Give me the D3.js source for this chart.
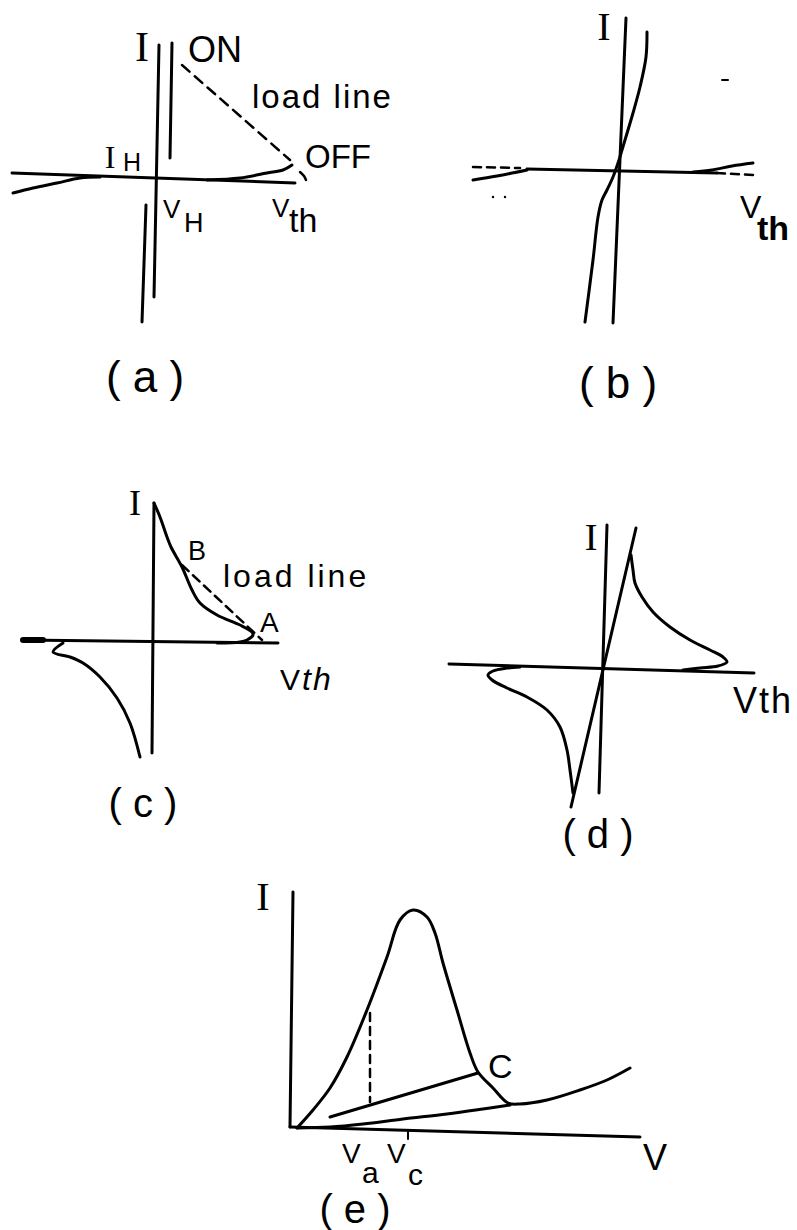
<!DOCTYPE html>
<html>
<head>
<meta charset="utf-8">
<script src="https://cdn.jsdelivr.net/npm/d3@7"></script>
<style>
  html, body { margin: 0; padding: 0; background: #fff; }
  svg { display: block; }
  text { fill: #000; font-family: "Liberation Sans", Arial, sans-serif; }
  .serif { font-family: "Liberation Serif", "Times New Roman", serif; }
</style>
</head>
<body>
<svg id="fig" width="797" height="1230"></svg>
<script>
// ---------- (a) thyristor-like switching characteristic ----------
const aAxisV    = [[0.1, 13.2], [-0.4, -12.0]];
const aAxisH    = [[-14.6, 0.4], [13.7, -0.6]];
const aOnBranch = [[1.4, 13.4], [1.2, 1.9]];
const aLowBranch = [[-1.2, -2.8], [-1.6, -14.5]];
const aLeftCurve = [[-14.5, -1.6], [-12.5, -1.1], [-10.1, -0.6], [-7.8, -0.1], [-5.8, 0.0]];
const aRightCurve = [[4.9, -0.3], [8.2, -0.1], [10.9, 0.4], [12.5, 0.7], [13.4, 1.2]];
const aLoadLine = [[2.4, 11.2], [13.2, 1.7]];
const aOffMark  = [[14.2, 0.5], [14.6, 0.1], [14.8, -0.3]];

// ---------- (b) symmetric switching characteristic ----------
const bAxisV = [[0.9, 15.2], [-0.4, -15.3]];
const bAxisH = [[-9.0, 0.1], [10.0, -0.3]];
const bCurve = [[3.0, 13.8], [2.9, 11.3], [2.3, 8.3], [1.6, 5.7], [0.8, 3.0], [0.1, 0.7],
                [-0.4, -0.7], [-1.0, -2.0], [-1.5, -3.0], [-1.9, -4.7], [-2.4, -9.0], [-3.2, -15.2]];
const bCurveLeft  = [[-14.4, -1.0], [-12.0, -0.6], [-9.0, 0.0]];
const bCurveRight = [[7.6, -0.2], [9.5, 0.0], [11.5, 0.4], [13.6, 0.7]];
const bDashLeft   = [[-14.4, 0.3], [-9.7, 0.2]];
const bDashRight  = [[10.0, -0.3], [13.8, -0.5]];
const bSpecks     = [[-12.4, -2.7], [-11.2, -2.7]];
const bStroke     = [[10.5, 9.0], [11.1, 9.0]];

// ---------- (c) memory switching with load line ----------
const cAxisV = [[0.1, 13.8], [-0.1, -11.2]];
const cAxisH = [[-13.0, 0.1], [12.5, -0.2]];
const cAxisStub = [[-13.0, 0.1], [-11.0, 0.1]];
const cUpper = [[0.1, 13.8], [0.7, 12.4], [1.4, 10.4], [1.8, 9.4], [2.9, 7.4], [3.9, 5.1],
                [4.7, 3.8], [6.4, 2.6], [8.7, 1.6], [9.9, 0.9], [10.0, 0.6], [9.4, 0.1],
                [8.7, -0.1], [6.4, -0.2]];
const cLoadLine = [[2.9, 7.6], [10.9, 0.1]];
const cLower = [[-9.0, -0.2], [-10.0, -1.1], [-8.3, -1.6], [-7.0, -2.2], [-5.3, -3.6],
                [-3.6, -5.7], [-2.3, -8.2], [-1.3, -11.6]];

// ---------- (d) symmetric negative-resistance characteristic ----------
const dAxisV = [[0.4, 14.3], [-0.4, -12.5]];
const dAxisH = [[-15.4, 0.4], [15.1, -0.5]];
const dOhmic = [[3.3, 14.0], [-3.2, -13.9]];
const dUpper = [[2.8, 11.3], [3.0, 9.8], [3.2, 8.5], [3.9, 7.1], [5.0, 5.6], [6.7, 4.1],
                [8.7, 2.8], [10.7, 1.8], [12.0, 1.1], [12.4, 0.6], [11.5, 0.2], [9.7, 0.0], [8.0, -0.2]];
const dLower = [[-3.0, -12.5], [-3.3, -10.2], [-3.6, -8.2], [-4.3, -5.9], [-5.6, -4.2],
                [-7.6, -2.9], [-9.6, -2.0], [-11.1, -1.2], [-11.5, -0.7], [-11.0, -0.3],
                [-9.6, 0.0], [-8.3, 0.1]];

// ---------- (e) current peak and return branch ----------
const eAxisV = [[0.2, 23.6], [-0.1, 0.1]];
const eAxisH = [[-0.1, 0.1], [34.9, -0.9]];
const ePeak  = [[0.6, 0.0], [2.2, 1.8], [3.9, 4.0], [5.6, 7.1], [7.6, 11.8], [9.6, 17.1],
                [10.9, 20.8], [12.2, 21.8], [13.6, 21.1], [14.4, 19.5], [15.2, 16.5],
                [16.6, 11.8], [17.9, 7.5], [18.7, 5.6], [20.2, 4.0], [21.7, 2.5],
                [22.9, 2.4], [25.6, 2.8], [28.9, 3.8], [31.6, 4.8], [33.9, 6.0]];
const eLower = [[0.6, 0.0], [3.9, 0.1], [7.2, 0.4], [11.2, 0.9], [15.6, 1.4], [19.2, 1.9], [21.9, 2.3]];
const eChord = [[3.9, 1.1], [18.7, 5.5]];
const eVa    = [[7.9, 11.5], [7.9, 2.6]];
const eVcTick = [[11.7, -0.4], [11.7, -1.1]];

// ---------- panel layout (origin in px, 10 px per unit) ----------
const layout = {
  a: { ox: 158, oy: 177 },
  b: { ox: 617, oy: 170 },
  c: { ox: 153, oy: 641 },
  d: { ox: 603, oy: 668 },
  e: { ox: 291, oy: 1128 }
};
const unit = 10;

const svg = d3.select("#fig");

function makeScales(p) {
  const x = d3.scaleLinear().domain([0, 1]).range([p.ox, p.ox + unit]);
  const y = d3.scaleLinear().domain([0, 1]).range([p.oy, p.oy - unit]);
  return { x, y };
}

const panels = {};
for (const k of Object.keys(layout)) {
  panels[k] = { g: svg.append("g").attr("class", "panel-" + k), s: makeScales(layout[k]) };
}

function stroke(panel, data, opts = {}) {
  const { g, s } = panels[panel];
  const gen = d3.line().x(d => s.x(d[0])).y(d => s.y(d[1]))
    .curve(opts.smooth ? d3.curveCatmullRom.alpha(0.5) : d3.curveLinear);
  g.append("path")
    .attr("d", gen(data))
    .attr("fill", "none")
    .attr("stroke", "#000")
    .attr("stroke-width", opts.width || 3)
    .attr("stroke-linecap", "round")
    .attr("stroke-linejoin", "round")
    .attr("stroke-dasharray", opts.dash || null);
}

function label(panel, pos, txt, size, opts = {}) {
  const { g, s } = panels[panel];
  g.append("text")
    .attr("x", s.x(pos[0]))
    .attr("y", s.y(pos[1]))
    .attr("font-size", size)
    .attr("class", opts.serif ? "serif" : null)
    .attr("text-anchor", opts.anchor || "start")
    .attr("font-weight", opts.bold ? "bold" : null)
    .attr("font-style", opts.italic ? "italic" : null)
    .attr("letter-spacing", opts.ls || null)
    .attr("xml:space", "preserve")
    .text(txt);
}

// (a)
stroke("a", aAxisV);
stroke("a", aAxisH);
stroke("a", aOnBranch);
stroke("a", aLowBranch);
stroke("a", aLeftCurve, { smooth: true });
stroke("a", aRightCurve, { smooth: true });
stroke("a", aLoadLine, { dash: "10,7", width: 2.5 });
stroke("a", aOffMark, { smooth: true, width: 2.5 });
label("a", [-1.6, 11.6], "I", 42, { serif: true, anchor: "middle" });
label("a", [3.0, 11.5], "ON", 36);
label("a", [9.4, 6.9], "load line", 33, { ls: 2 });
label("a", [14.7, 0.9], "OFF", 33);
label("a", [-4.8, 0.9], "I", 32, { serif: true, anchor: "middle" });
label("a", [-3.5, 0.6], "H", 25);
label("a", [0.5, -4.1], "V", 26);
label("a", [2.6, -5.5], "H", 27);
label("a", [11.4, -4.0], "V", 26);
label("a", [13.1, -5.5], "th", 34);
label("a", [-1.3, -21.5], "( a )", 44, { anchor: "middle" });

// (b)
stroke("b", bAxisV);
stroke("b", bAxisH);
stroke("b", bCurve, { smooth: true });
stroke("b", bCurveLeft, { smooth: true });
stroke("b", bCurveRight, { smooth: true });
stroke("b", bDashLeft, { dash: "8,6", width: 2.5 });
stroke("b", bDashRight, { dash: "8,6", width: 2.5 });
stroke("b", bStroke, { width: 2 });
panels.b.g.selectAll("circle.speck").data(bSpecks).join("circle")
  .attr("class", "speck")
  .attr("cx", d => panels.b.s.x(d[0]))
  .attr("cy", d => panels.b.s.y(d[1]))
  .attr("r", 1.2).attr("fill", "#000");
label("b", [-1.3, 13.0], "I", 40, { serif: true, anchor: "middle" });
label("b", [12.3, -4.8], "V", 32);
label("b", [14.0, -7.0], "th", 34, { bold: true });
label("b", [0.1, -22.8], "( b )", 44, { anchor: "middle" });

// (c)
stroke("c", cAxisV);
stroke("c", cAxisH);
stroke("c", cAxisStub, { width: 6 });
stroke("c", cUpper, { smooth: true });
stroke("c", cLoadLine, { dash: "9,6", width: 2.5 });
stroke("c", cLower, { smooth: true });
label("c", [-1.8, 12.6], "I", 36, { serif: true, anchor: "middle" });
label("c", [3.5, 8.1], "B", 27);
label("c", [7.0, 5.4], "load line", 32, { ls: 3 });
label("c", [10.7, 0.9], "A", 28);
label("c", [12.7, -4.9], "V", 30);
label("c", [14.9, -4.9], "th", 32, { italic: true, ls: 2 });
label("c", [-1.0, -17.6], "( c )", 40, { anchor: "middle" });

// (d)
stroke("d", dAxisV);
stroke("d", dAxisH);
stroke("d", dOhmic);
stroke("d", dUpper, { smooth: true });
stroke("d", dLower, { smooth: true });
label("d", [-1.2, 11.8], "I", 38, { serif: true, anchor: "middle" });
label("d", [13.0, -4.5], "Vth", 36, { ls: 2 });
label("d", [-0.5, -18.0], "( d )", 40, { anchor: "middle" });

// (e)
stroke("e", eAxisV);
stroke("e", eAxisH);
stroke("e", ePeak, { smooth: true });
stroke("e", eLower, { smooth: true });
stroke("e", eChord);
stroke("e", eVa, { dash: "8,6", width: 2.5 });
stroke("e", eVcTick, { width: 2 });
label("e", [-2.8, 21.8], "I", 40, { serif: true, anchor: "middle" });
label("e", [19.7, 5.0], "C", 34);
label("e", [35.2, -4.2], "V", 36);
label("e", [5.1, -3.5], "V", 28);
label("e", [7.1, -5.5], "a", 30);
label("e", [9.6, -3.5], "V", 28);
label("e", [11.7, -5.7], "c", 30);
label("e", [6.4, -9.5], "( e )", 40, { anchor: "middle" });
</script>
</body>
</html>
